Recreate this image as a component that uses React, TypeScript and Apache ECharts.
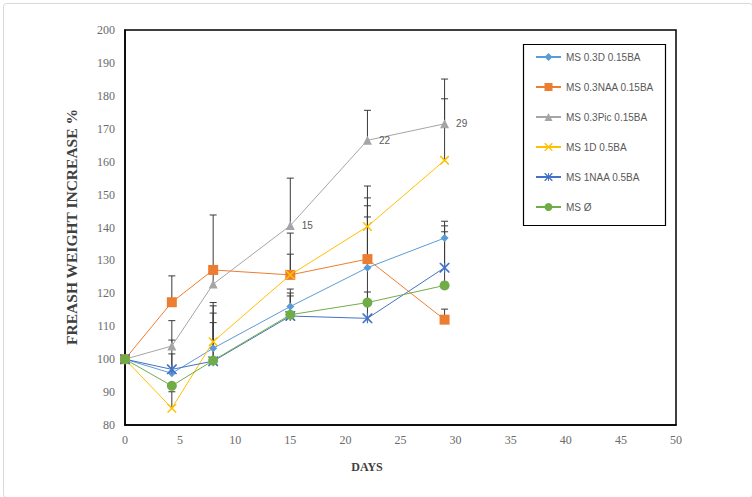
import React, { useEffect, useRef } from "react";
import * as echarts from "echarts";

const days = [0, 4.25, 8, 15, 22, 29];
const seriesNames = [
  "MS 0.3D 0.15BA",
  "MS 0.3NAA 0.15BA",
  "MS 0.3Pic 0.15BA",
  "MS 1D 0.5BA",
  "MS 1NAA 0.5BA",
  "MS Ø",
];
const ms03D = [100, 95.7, 103.3, 116, 127.8, 136.8];
const ms03NAA = [100, 117.3, 127.1, 125.6, 130.4, 112];
const ms03Pic = [100, 104, 122.8, 140.6, 166.5, 171.5];
const ms1D = [100, 85.1, 105.3, 125.6, 140.3, 160.4];
const ms1NAA = [100, 96.9, 99.4, 113.1, 112.4, 127.8];
const msO = [100, 91.9, 99.6, 113.5, 117.2, 122.4];

const err03D = [0, 5.9, 10.7, 5.3, 18.8, 5.1];
const err03NAA = [0, 8, 16.7, 6.3, 18.6, 3.2];
const err03Pic = [0, 7.7, 4.5, 14.4, 9.1, 13.6];
const err1D = [0, 5, 11.9, 12.7, 12.3, 18.7];
const err1NAA = [0, 8.9, 11.7, 7, 8, 12.7];
const errO = [0, 0, 16.6, 5.7, 26, 16.3];

const picLabels = ["", "", "", "15", "22", "29"];

const xTicks = { min: 0, max: 50, interval: 5 };
const yTicks = { min: 80, max: 200, interval: 10 };

const colors = ["#5B9BD5", "#ED7D31", "#A5A5A5", "#FFC000", "#4472C4", "#70AD47"];
const xPath =
  "path://M0,0 L1.2,0 L5,3.8 L8.8,0 L10,0 L10,1.2 L6.2,5 L10,8.8 L10,10 L8.8,10 L5,6.2 L1.2,10 L0,10 L0,8.8 L3.8,5 L0,1.2 Z";
const starPath =
  "path://M0,0 L1.2,0 L5,3.8 L8.8,0 L10,0 L10,1.2 L6.2,5 L10,8.8 L10,10 L8.8,10 L5,6.2 L1.2,10 L0,10 L0,8.8 L3.8,5 L0,1.2 Z M4.4,0 L5.6,0 L5.6,10 L4.4,10 Z";
const symbols = ["diamond", "rect", "triangle", xPath, starPath, "circle"];
const symbolSizes = [8, 10, 9, 9, 10, 10];

export default function App() {
  const ref = useRef<HTMLDivElement>(null);
  useEffect(() => {
    if (!ref.current) return;
    const chart = echarts.init(ref.current, null, { renderer: "svg" });
    const values = [ms03D, ms03NAA, ms03Pic, ms1D, ms1NAA, msO];
    const errs = [err03D, err03NAA, err03Pic, err1D, err1NAA, errO];

    const lineSeries = values.map((vals, si) => ({
      type: "line",
      name: seriesNames[si],
      z: 3,
      symbol: symbols[si],
      symbolSize: symbolSizes[si],
      showAllSymbol: true,
      lineStyle: { color: colors[si], width: 1 },
      itemStyle: { color: colors[si] },
      data: vals.map((v, i) => {
        const item: any = { value: [days[i], v] };
        if (si === 2 && picLabels[i]) {
          item.label = {
            show: true,
            position: "right",
            distance: 7,
            formatter: picLabels[i],
            color: "#595959",
            fontSize: 10,
            fontFamily: "Liberation Sans",
          };
        }
        return item;
      }),
    }));

    const errData: number[][] = [];
    values.forEach((vals, si) => {
      vals.forEach((v, i) => {
        if (errs[si][i] > 0) errData.push([days[i], v, errs[si][i]]);
      });
    });

    const errSeries = {
      type: "custom",
      name: "err",
      z: 2,
      silent: true,
      encode: { x: 0, y: 1 },
      data: errData,
      renderItem: (params: any, api: any) => {
        const x = api.value(0);
        const y = api.value(1);
        const e = api.value(2);
        const p0 = api.coord([x, y]);
        const p1 = api.coord([x, y + e]);
        const st = { stroke: "#3a3a3a", lineWidth: 1 };
        return {
          type: "group",
          children: [
            { type: "line", shape: { x1: p0[0], y1: p0[1], x2: p1[0], y2: p1[1] }, style: st },
            { type: "line", shape: { x1: p1[0] - 3.5, y1: p1[1], x2: p1[0] + 3.5, y2: p1[1] }, style: st },
          ],
        };
      },
    };

    chart.setOption({
      animation: false,
      backgroundColor: "#ffffff",
      grid: {
        left: 125,
        top: 30,
        right: 76,
        bottom: 72,
        show: true,
        borderColor: "#000000",
        borderWidth: 1.5,
        backgroundColor: "transparent",
      },
      xAxis: {
        type: "value",
        min: xTicks.min,
        max: xTicks.max,
        interval: xTicks.interval,
        axisLine: { show: true, lineStyle: { color: "#000", width: 1.5 } },
        axisTick: { show: false },
        splitLine: { show: false },
        axisLabel: {
          color: "#6a6a6a",
          fontSize: 12,
          fontFamily: "Liberation Serif",
          margin: 9,
        },
      },
      yAxis: {
        type: "value",
        min: yTicks.min,
        max: yTicks.max,
        interval: yTicks.interval,
        axisLine: { show: true, lineStyle: { color: "#000", width: 1.5 } },
        axisTick: { show: false },
        splitLine: { show: false },
        axisLabel: {
          color: "#6a6a6a",
          fontSize: 12,
          fontFamily: "Liberation Serif",
          margin: 10,
        },
      },
      legend: {
        orient: "vertical",
        left: 535,
        top: 51,
        padding: 0,
        itemWidth: 25,
        itemHeight: 10,
        itemGap: 18,
        data: seriesNames,
        textStyle: {
          color: "#595959",
          fontSize: 10,
          lineHeight: 12,
          fontFamily: "Liberation Sans",
        },
      },
      graphic: [
        {
          type: "rect",
          left: 1,
          top: 1,
          shape: { width: 749, height: 494, r: 3 },
          style: { fill: "none", stroke: "#d9d9d9", lineWidth: 1 },
          silent: true,
        },
        {
          type: "rect",
          left: 521,
          top: 42,
          shape: { width: 142, height: 181 },
          style: { fill: "none", stroke: "#000000", lineWidth: 1.2 },
          silent: true,
        },
        {
          type: "text",
          x: 71,
          y: 227,
          rotation: Math.PI / 2,
          style: {
            text: "FREASH WEIGHT INCREASE %",
            font: 'bold 15.5px "Liberation Serif"',
            fill: "#404040",
            textAlign: "center",
            textVerticalAlign: "middle",
          },
        },
        {
          type: "text",
          x: 367,
          y: 467,
          style: {
            text: "DAYS",
            font: 'bold 12px "Liberation Serif"',
            fill: "#404040",
            textAlign: "center",
            textVerticalAlign: "middle",
          },
        },
      ],
      series: [errSeries, ...lineSeries],
    });
    return () => chart.dispose();
  }, []);
  return (
    <div
      ref={ref}
      style={{ position: "absolute", left: 0, top: 0, width: 752, height: 497 }}
    />
  );
}
